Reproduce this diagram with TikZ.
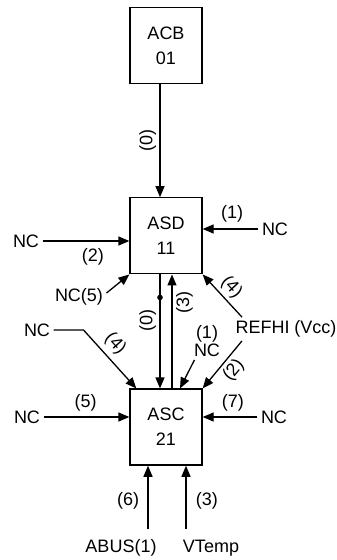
\documentclass[tikz,border=0pt]{standalone}
\usepackage{fontspec}
\setmainfont{Liberation Sans}
\usetikzlibrary{arrows.meta,positioning}

\begin{document}
\begin{tikzpicture}[x=1pt,y=-1pt, every node/.style={font=\fontsize{18}{25}\selectfont},
 box/.style={draw,line width=1.3pt,minimum width=72pt,minimum height=76pt,align=center},
 arr/.style={-{Triangle[length=11pt,width=9pt]},line width=1.3pt}]
\useasboundingbox (0,0) rectangle (337,560);
% the three blocks
\node[box] (acb) at (166,45.5) {ACB\\01};
\node[box,below=113pt of acb] (asd) {ASD\\11};
\node[box,below=114pt of asd] (asc) {ASC\\21};
% free inputs
\node (ncd2) at (26,241) {NC};
\node (ncd1) at (275,229) {NC};
\node (ncd5) at (79,297) {NC(5)};
\node (refhi) at (286,329) {REFHI (Vcc)};
\node (nca) at (37,330) {NC};
\node (nc1) at (207,350) {NC};
\node[above=-6pt of nc1] (lc1) {(1)};
\node (nc5) at (27,417) {NC};
\node (nc7) at (274,417) {NC};
\node (abus) at (121,548) {ABUS(1)};
\node (vtemp) at (211,548) {VTemp};
\coordinate (abin) at (148,529);
\coordinate (vtin) at (186,529);
% ACB -> ASD
\draw[arr] ([xshift=-6pt]acb.south) -- ([xshift=-6pt]asd.north) node[midway,rotate=90,anchor=south] (l0a) {(0)};
% into ASD
\draw[arr] (ncd2) -- (ncd2 -| asd.west) node[pos=.58,below=3pt] (ld2) {(2)};
\draw[arr] (ncd1) -- (ncd1 -| asd.east) node[pos=.47,above=3pt] (ld1) {(1)};
\draw[arr] ([yshift=4pt]ncd5.east) -- (asd.south west);
\draw[arr] ([xshift=10pt]refhi.north west) -- (asd.south east) node[midway,above,sloped] (ld4) {(4)};
% ASD <-> ASC
\draw[arr] ([xshift=-6pt]asd.south) -- ([xshift=-6pt]asc.north) node[pos=.4,rotate=90,anchor=south] (l0b) {(0)};
\fill ([xshift=-6pt]asd.south) ++(0,23) circle (2.8);
\draw[arr] ([xshift=6pt]asc.north) -- ([xshift=6pt]asd.south) node[pos=.75,rotate=90,anchor=north] (l3a) {(3)};
% into ASC
\draw[arr] (nca.east) -- ++(30,0) -- ([xshift=7pt]asc.north west) node[pos=.4,above=2pt,sloped] (lc4) {(4)};
\draw[arr] ([xshift=4pt]nc1.south west) -- ([xshift=14pt]asc.north);
\draw[arr] ([xshift=10pt]refhi.south west) -- (asc.north east) node[pos=.45,below,sloped] (lc2) {(2)};
\draw[arr] (nc5) -- (nc5 -| asc.west) node[pos=.49,above=2pt] (lc5) {(5)};
\draw[arr] (nc7) -- (nc7 -| asc.east) node[pos=.45,above=2pt] (lc7) {(7)};
\draw[arr] (abin) -- (abin |- asc.south) node[pos=.45,left=5pt] (lc6) {(6)};
\draw[arr] (vtin) -- (vtin |- asc.south) node[pos=.45,right=6pt] (lc3) {(3)};
\end{tikzpicture}
\end{document}
